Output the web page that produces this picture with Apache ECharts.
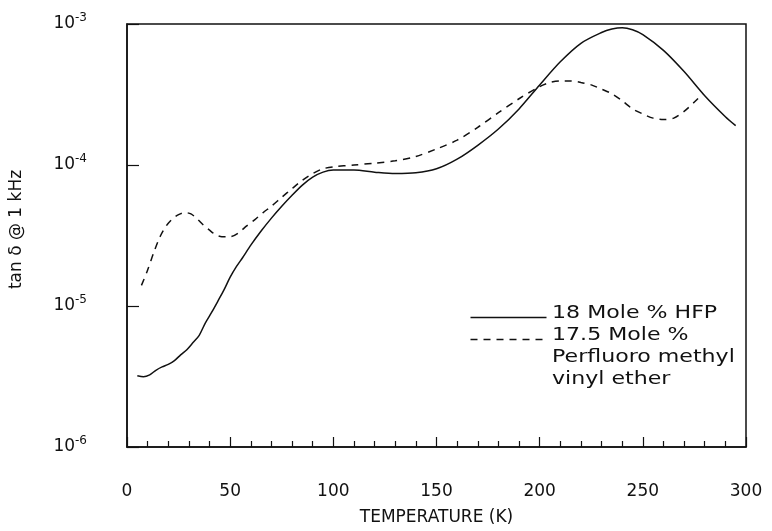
<!DOCTYPE html>
<html>
<head>
<meta charset="utf-8">
<script src="https://cdn.jsdelivr.net/npm/echarts@6/dist/echarts.min.js"></script>
<style>
  html, body { margin: 0; padding: 0; background: #fff; }
  #chart { width: 772px; height: 531px; }
</style>
</head>
<body>
<div id="chart"></div>
<script>
// 18 Mole % HFP (solid)
const hfpTemp = [5, 8, 11, 14, 17, 20, 23, 26, 29, 32, 35, 38, 41, 44, 47, 50, 53, 56, 60, 65, 70, 75, 80, 85, 90, 95, 100, 110, 120, 130, 140, 150, 160, 170, 180, 190, 200, 210, 220, 230, 235, 240, 245, 250, 260, 270, 280, 290, 295]
const hfpTan = [3.2e-6, 3.15e-6, 3.25e-6, 3.5e-6, 3.7e-6, 3.85e-6, 4.1e-6, 4.5e-6, 4.9e-6, 5.5e-6, 6.2e-6, 7.6e-6, 9.0e-6, 1.08e-5, 1.3e-5, 1.6e-5, 1.9e-5, 2.2e-5, 2.7e-5, 3.4e-5, 4.2e-5, 5.1e-5, 6.1e-5, 7.2e-5, 8.2e-5, 8.9e-5, 9.2e-5, 9.2e-5, 8.9e-5, 8.7e-5, 8.8e-5, 9.4e-5, 1.1e-4, 1.38e-4, 1.8e-4, 2.5e-4, 3.7e-4, 5.4e-4, 7.3e-4, 8.7e-4, 9.2e-4, 9.4e-4, 9.1e-4, 8.4e-4, 6.5e-4, 4.6e-4, 3.1e-4, 2.2e-4, 1.9e-4]

// 17.5 Mole % perfluoro methyl vinyl ether (dashed)
const pmveTemp = [7, 10, 13, 16, 19, 22, 25, 28, 31, 34, 37, 40, 43, 46, 50, 54, 58, 62, 66, 70, 75, 80, 85, 90, 95, 100, 110, 120, 130, 140, 150, 160, 170, 180, 190, 200, 205, 210, 215, 220, 225, 230, 235, 240, 245, 250, 255, 260, 265, 270, 275, 279]
const pmveTan = [1.4e-5, 1.8e-5, 2.4e-5, 3.1e-5, 3.7e-5, 4.15e-5, 4.45e-5, 4.6e-5, 4.5e-5, 4.15e-5, 3.75e-5, 3.45e-5, 3.2e-5, 3.1e-5, 3.1e-5, 3.3e-5, 3.7e-5, 4.1e-5, 4.6e-5, 5.1e-5, 5.9e-5, 6.8e-5, 7.8e-5, 8.7e-5, 9.4e-5, 9.7e-5, 1.0e-4, 1.03e-4, 1.07e-4, 1.15e-4, 1.3e-4, 1.5e-4, 1.85e-4, 2.35e-4, 2.95e-4, 3.6e-4, 3.85e-4, 3.95e-4, 3.95e-4, 3.85e-4, 3.7e-4, 3.45e-4, 3.2e-4, 2.85e-4, 2.5e-4, 2.3e-4, 2.15e-4, 2.1e-4, 2.15e-4, 2.4e-4, 2.8e-4, 3.2e-4]

const legendLines = ['18 Mole % HFP', '17.5 Mole %', 'Perfluoro methyl', 'vinyl ether']

const font = 'DejaVu Sans'
const ink = '#111'

function pairs(xs, ys) {
  return xs.map((x, i) => [x, ys[i]])
}

// legend drawn by hand: the second entry wraps over three lines
function legendText(txt, top) {
  return {
    type: 'text', left: 552, top: top, scaleX: 1.3,
    style: { text: txt, font: '17px "DejaVu Sans"', fill: ink }
  }
}

const chart = echarts.init(document.getElementById('chart'), null, { renderer: 'canvas' })
chart.setOption({
  animation: false,
  backgroundColor: '#fff',
  grid: {
    left: 127,
    right: 26,
    top: 24,
    bottom: 84,
    show: true,
    borderColor: ink,
    borderWidth: 1.5
  },
  xAxis: {
    type: 'value',
    min: 0,
    max: 300,
    interval: 50,
    name: 'TEMPERATURE (K)',
    nameLocation: 'middle',
    nameGap: 62,
    nameTextStyle: { fontFamily: font, fontSize: 17, color: ink },
    axisLine: { lineStyle: { color: ink, width: 1.5 } },
    axisTick: { inside: true, length: 10, lineStyle: { color: ink, width: 1.2 } },
    minorTick: { show: true, splitNumber: 5, length: 6, lineStyle: { color: ink, width: 1.2 } },
    splitLine: { show: false },
    axisLabel: { margin: 36, fontFamily: font, fontSize: 17, color: ink }
  },
  yAxis: {
    type: 'log',
    logBase: 10,
    min: 1e-6,
    max: 1e-3,
    name: 'tan δ @ 1 kHz',
    nameLocation: 'middle',
    nameGap: 102,
    nameTextStyle: { fontFamily: font, fontSize: 17, color: ink, padding: [0, 0, 0, 12] },
    axisLine: { lineStyle: { color: ink, width: 1.5 } },
    axisTick: { inside: true, length: 12, lineStyle: { color: ink, width: 1.2 } },
    splitLine: { show: false },
    axisLabel: {
      margin: 40,
      formatter: function (v) {
        const e = Math.round(Math.log10(v))
        return '{b|10}{s|' + e + '}'
      },
      rich: {
        b: { fontFamily: font, fontSize: 17, color: ink },
        s: { fontFamily: font, fontSize: 12, color: ink, padding: [0, 0, 12, 0] }
      }
    }
  },
  series: [
    {
      name: legendLines[0],
      type: 'line',
      data: pairs(hfpTemp, hfpTan),
      smooth: 0.3,
      showSymbol: false,
      lineStyle: { color: ink, width: 1.5 }
    },
    {
      name: '17.5 Mole % Perfluoro methyl vinyl ether',
      type: 'line',
      data: pairs(pmveTemp, pmveTan),
      smooth: 0.3,
      showSymbol: false,
      lineStyle: { color: ink, width: 1.5, type: [7, 6] }
    }
  ],
  graphic: [
    { type: 'line', left: 468, top: 315, shape: { x1: 0, y1: 0, x2: 76, y2: 0 }, style: { stroke: ink, lineWidth: 1.5 } },
    { type: 'line', left: 468, top: 337, shape: { x1: 0, y1: 0, x2: 76, y2: 0 }, style: { stroke: ink, lineWidth: 1.5, lineDash: [7, 6] } },
    legendText(legendLines[0], 305),
    legendText(legendLines[1], 327),
    legendText(legendLines[2], 349),
    legendText(legendLines[3], 371)
  ]
})
</script>
</body>
</html>
